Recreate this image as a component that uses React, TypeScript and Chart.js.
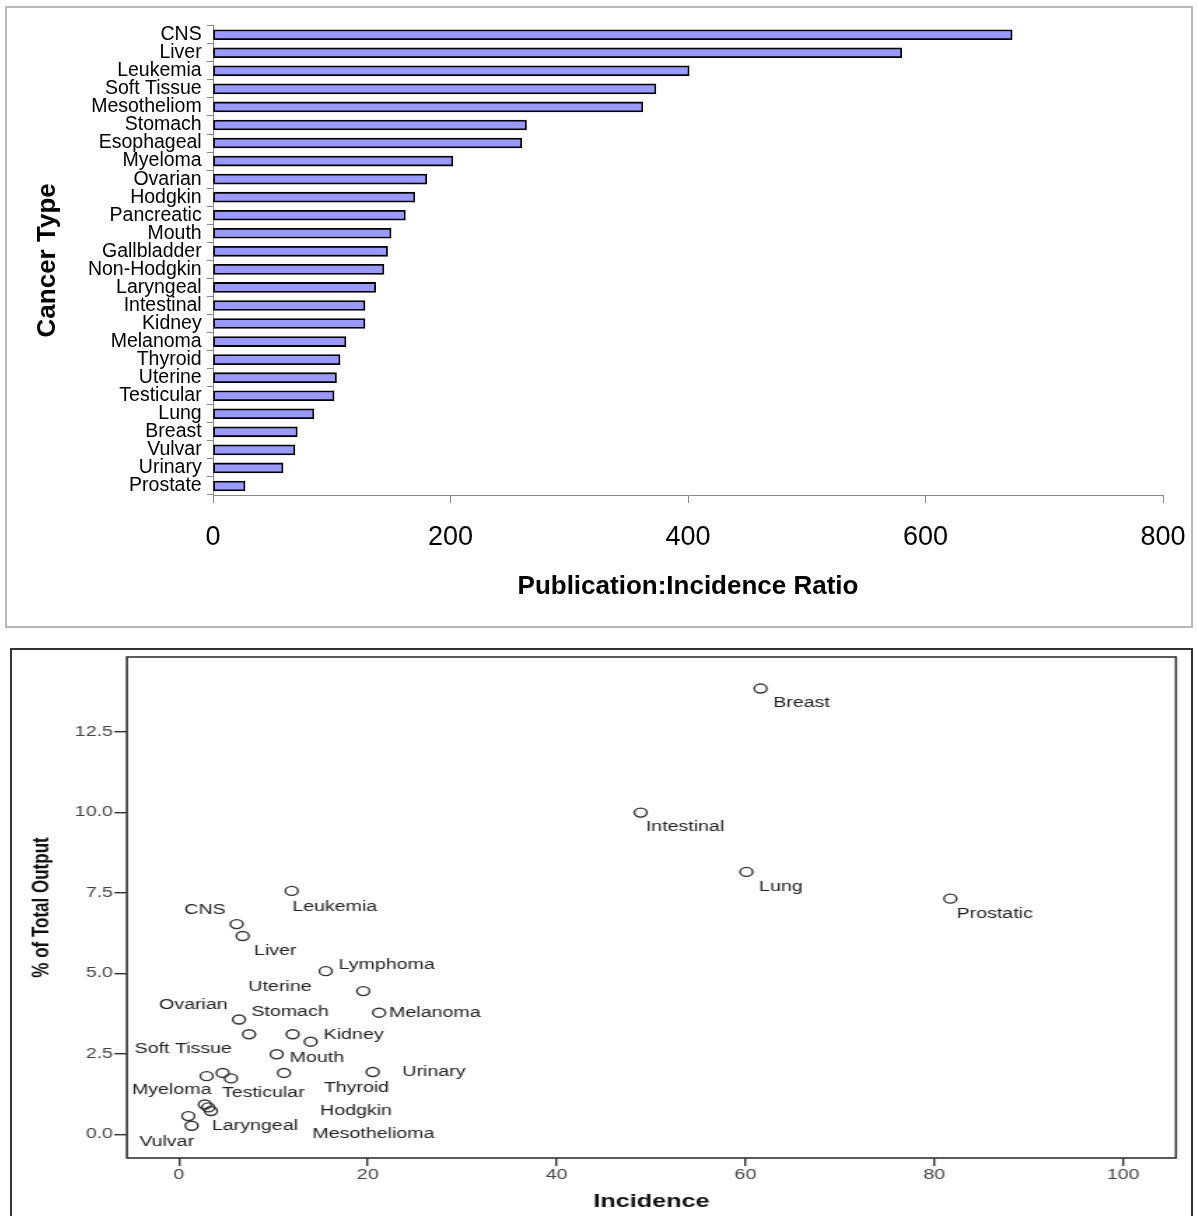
import React, { useEffect, useRef } from "react";
import { Chart, registerables } from "chart.js";

Chart.register(...registerables);

const FONT = "'Liberation Sans', Arial, sans-serif";

// ---- Top chart: Publication:Incidence Ratio by cancer type ----
const categories = [
  "CNS", "Liver", "Leukemia", "Soft Tissue", "Mesotheliom", "Stomach", "Esophageal",
  "Myeloma", "Ovarian", "Hodgkin", "Pancreatic", "Mouth", "Gallbladder", "Non-Hodgkin",
  "Laryngeal", "Intestinal", "Kidney", "Melanoma", "Thyroid", "Uterine", "Testicular",
  "Lung", "Breast", "Vulvar", "Urinary", "Prostate",
];
const ratios = [
  673, 580, 401, 373, 362, 264, 260, 202, 180, 170, 162, 150, 147, 144, 137, 128, 128,
  112, 107, 104, 102, 85, 71, 69, 59, 27,
];
const ratioTicks = [0, 200, 400, 600, 800];

// ---- Bottom chart: % of total output vs incidence ----
const incidence = [
  61.6, 48.9, 60.1, 81.7, 11.94, 6.11, 6.75, 15.54, 19.52, 21.2, 6.36, 7.42, 12.04,
  13.95, 10.35, 2.93, 4.63, 5.51, 11.12, 20.52, 2.75, 3.1, 3.39, 0.99, 1.34,
];
const outputPct = [
  13.84, 9.99, 8.15, 7.32, 7.56, 6.53, 6.16, 5.07, 4.45, 3.78, 3.57, 3.11, 3.11, 2.88,
  2.49, 1.81, 1.91, 1.74, 1.91, 1.94, 0.93, 0.84, 0.73, 0.57, 0.27,
];
const labelText = [
  "Breast", "Intestinal", "Lung", "Prostatic", "Leukemia", "CNS", "Liver", "Lymphoma",
  "Uterine", "Ovarian", "Stomach", "Melanoma", "Kidney", "Soft Tissue", "Mouth",
  "Urinary", "Thyroid", "Myeloma", "Testicular", "Hodgkin", "Laryngeal", "Mesothelioma",
  "Vulvar",
];
const labelX = [
  65.95, 53.6, 63.75, 86.4, 16.5, 2.75, 10.2, 22.0, 10.7, 1.52, 11.76, 27.1, 18.5, 0.46,
  14.6, 27.0, 18.8, -0.77, 8.93, 18.75, 8.05, 20.6, -1.3,
];
const labelY = [
  13.38, 9.53, 7.69, 6.84, 7.07, 6.97, 5.69, 5.25, 4.58, 4.02, 3.81, 3.76, 3.08, 2.65,
  2.38, 1.94, 1.45, 1.38, 1.27, 0.73, 0.26, 0.01, -0.23,
];
const incidenceRange = [-5.51, 105.6];
const outputRange = [-0.73, 14.82];

const framePlugin = {
  id: "frame",
  afterDraw(chart: any) {
    const { ctx, chartArea } = chart;
    ctx.save();
    ctx.strokeStyle = "#333";
    ctx.lineWidth = 1.6;
    ctx.strokeRect(chartArea.left, chartArea.top, chartArea.right - chartArea.left, chartArea.bottom - chartArea.top);
    ctx.restore();
  },
};

const labelPlugin = {
  id: "pointLabels",
  afterDatasetsDraw(chart: any) {
    const { ctx } = chart;
    const xs = chart.scales.x;
    const ys = chart.scales.y;
    ctx.save();
    ctx.font = `14px ${FONT}`;
    ctx.fillStyle = "#222";
    ctx.textAlign = "center";
    ctx.textBaseline = "middle";
    labelText.forEach((t, i) => {
      ctx.fillText(t, xs.getPixelForValue(labelX[i]), ys.getPixelForValue(labelY[i]));
    });
    ctx.restore();
  },
};

const fixWidth = (w: number) => (s: any) => {
  s.width = w;
  s.paddingTop = 0;
  s.paddingBottom = 0;
  s.paddingLeft = 0;
  s.paddingRight = 0;
};
const fixHeight = (h: number) => (s: any) => {
  s.height = h;
  s.paddingTop = 0;
  s.paddingBottom = 0;
  s.paddingLeft = 0;
  s.paddingRight = 0;
};

export default function App() {
  const barRef = useRef<HTMLCanvasElement>(null);
  const scatRef = useRef<HTMLCanvasElement>(null);

  useEffect(() => {
    const bar = new Chart(barRef.current!, {
      type: "bar",
      data: {
        labels: categories,
        datasets: [
          {
            data: ratios,
            backgroundColor: "#9999ff",
            borderColor: "#000",
            borderWidth: 1.8,
            barThickness: 10,
            borderSkipped: false,
          } as any,
        ],
      },
      options: {
        indexAxis: "y",
        responsive: false,
        animation: false,
        layout: { padding: { left: 0, right: 28, top: 17.7, bottom: 0 } },
        plugins: { legend: { display: false }, tooltip: { enabled: false } },
        scales: {
          x: {
            min: ratioTicks[0],
            max: ratioTicks[ratioTicks.length - 1],
            afterBuildTicks: (s: any) => {
              s.ticks = ratioTicks.map((v) => ({ value: v }));
            },
            ticks: { font: { family: FONT, size: 27 }, color: "#000", padding: 18.8 },
            grid: { drawOnChartArea: false, tickLength: 8, color: "#888" },
            border: { color: "#888", width: 1 },
            title: {
              display: true,
              text: "Publication:Incidence Ratio",
              font: { family: FONT, size: 26, weight: "bold" },
              color: "#000",
              padding: { top: 0, bottom: 23.7 },
            },
            afterFit: fixHeight(131),
          },
          y: {
            ticks: { autoSkip: false, font: { family: FONT, size: 19.5 }, color: "#000", padding: 5.3 },
            grid: { drawOnChartArea: false, tickLength: 6, color: "#888", offset: true },
            border: { color: "#888", width: 1 },
            title: {
              display: true,
              text: "Cancer Type",
              font: { family: FONT, size: 26, weight: "bold" },
              color: "#000",
              padding: { top: 24.8, bottom: 0 },
            },
            afterFit: fixWidth(206),
          },
        },
      } as any,
    });

    const sc = new Chart(scatRef.current!, {
      type: "scatter",
      data: {
        datasets: [
          {
            data: incidence.map((x, i) => ({ x, y: outputPct[i] })),
            pointRadius: 4.5,
            pointBorderWidth: 1.4,
            pointBorderColor: "#333",
            pointBackgroundColor: "rgba(0,0,0,0)",
            pointStyle: "circle",
          } as any,
        ],
      },
      options: {
        responsive: false,
        animation: false,
        layout: { padding: { left: 0, right: 10.6, top: 7, bottom: 0 } },
        plugins: { legend: { display: false }, tooltip: { enabled: false } },
        scales: {
          x: {
            type: "linear",
            min: incidenceRange[0],
            max: incidenceRange[1],
            ticks: {
              stepSize: 20,
              includeBounds: false,
              font: { family: FONT, size: 14 },
              color: "#444",
              padding: 1,
            },
            grid: { drawOnChartArea: false, tickLength: 8, color: "#333", lineWidth: 1.4 },
            border: { display: false },
            title: {
              display: true,
              text: "Incidence",
              font: { family: FONT, size: 18, weight: "bold" },
              color: "#111",
              padding: { top: 0, bottom: 3.2 },
            },
            afterFit: fixHeight(58),
          },
          y: {
            type: "linear",
            min: outputRange[0],
            max: outputRange[1],
            ticks: {
              stepSize: 2.5,
              includeBounds: false,
              font: { family: FONT, size: 14 },
              color: "#444",
              padding: 1,
              callback: (v: any) => Number(v).toFixed(1),
            },
            grid: { drawOnChartArea: false, tickLength: 9, color: "#333", lineWidth: 1.4 },
            border: { display: false },
            title: {
              display: true,
              text: "% of Total Output",
              font: { family: FONT, size: 17, weight: "bold" },
              color: "#111",
              padding: { top: 11.2, bottom: 0 },
            },
            afterFit: fixWidth(82.1),
          },
        },
      } as any,
      plugins: [framePlugin, labelPlugin],
    });

    return () => {
      bar.destroy();
      sc.destroy();
    };
  }, []);

  return (
    <div>
      <div
        style={{
          position: "absolute",
          left: 5,
          top: 6,
          width: 1188,
          height: 622,
          boxSizing: "border-box",
          border: "2px solid #b8b8b8",
          background: "#fff",
        }}
      >
        <canvas ref={barRef} width={1184} height={618} style={{ display: "block", width: 1184, height: 618 }} />
      </div>
      <div
        style={{
          position: "absolute",
          left: 10,
          top: 648,
          width: 1183,
          height: 568,
          boxSizing: "border-box",
          border: "2px solid #333",
          borderBottom: "none",
          overflow: "hidden",
          background: "#fff",
        }}
      >
        <div
          style={{
            position: "absolute",
            left: 0,
            top: 0,
            width: 842,
            height: 566,
            transform: "scaleX(1.4)",
            transformOrigin: "0 0",
          }}
        >
          <canvas ref={scatRef} width={842} height={566} style={{ display: "block", width: 842, height: 566 }} />
        </div>
      </div>
    </div>
  );
}
